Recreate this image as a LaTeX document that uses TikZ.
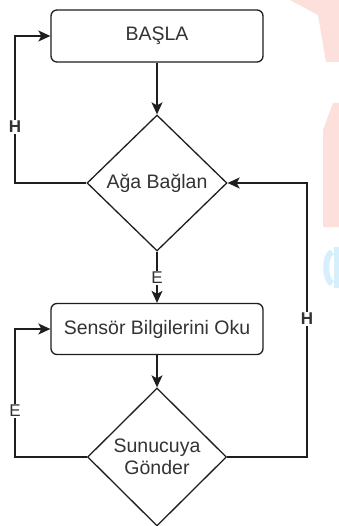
\documentclass[tikz,border=0pt]{standalone}
\usepackage{fontspec}
\setmainfont{Liberation Sans}
\usetikzlibrary{shapes.geometric,arrows.meta}
\definecolor{ink}{RGB}{30,30,30}
\definecolor{txt}{RGB}{51,51,51}
\definecolor{wmpink}{RGB}{253,224,219}
\definecolor{wmblue}{RGB}{214,239,252}
\tikzset{
  line/.style={draw=ink, line width=1.3pt},
  arr/.style={line, -{Stealth[length=12pt,width=11pt,inset=3pt]}},
  procbox/.style={line, rectangle, rounded corners=6pt, minimum width=212pt,
    minimum height=52pt, inner sep=0pt, text=txt, font=\fontsize{19.5}{22}\selectfont},
  decision/.style={line, diamond, minimum width=140pt, minimum height=136pt,
    inner sep=0pt, text=txt, align=center, font=\fontsize{19.5}{21.5}\selectfont},
  lbl/.style={fill=white, inner sep=1.5pt, text=txt, font=\fontsize{17}{17}\selectfont}
}
\begin{document}
\begin{tikzpicture}[x=1pt,y=-1pt]
\useasboundingbox (0,0) rectangle (339,526);
\fill[white] (0,0) rectangle (339,526);
% faint background marks at the right edge
\fill[wmpink] (290,0) -- (339,0) -- (339,62) -- (326,62) -- (318,15) -- cycle;
\fill[wmpink] (333,103) -- (339,103) -- (339,227) -- (323,227) -- (323,130) -- cycle;
\draw[wmblue, line width=6pt] (332,252) arc[start angle=100, end angle=260, x radius=7pt, y radius=16pt];
\fill[wmblue] (334,247) rectangle (339,288);

% blocks
\node[procbox] (start) at (157,36) {BAŞLA};
\node[decision] (net) at (157,183) {Ağa Bağlan};
\node[procbox, minimum height=51pt] (read) at (157,329) {Sensör Bilgilerini Oku};
\node[decision, minimum width=139pt, minimum height=138pt] (send) at (157,457) {Sunucuya\\Gönder};

% return points of the loops
\coordinate (lt) at (15,36);
\coordinate (lb) at (15,329);
\coordinate (rt) at (307,183);

% connectors
\draw[arr] (start) -- (net);
\draw[arr] (net.west) -| (lt) -- (start.west);
\draw[arr] (net) -- (read);
\draw[arr] (read) -- (send);
\draw[arr] (send.west) -| (lb) -- (read.west);
\draw[arr] (send.east) -| (rt) -- (net.east);

% branch labels
\node[lbl, font=\fontsize{17}{17}\selectfont\bfseries] (h1) at (15,127) {H};
\node[lbl] (e1) at (157,278) {E};
\node[lbl] (e2) at (15,411) {E};
\node[lbl, font=\fontsize{17}{17}\selectfont\bfseries] (h2) at (307,319) {H};
\end{tikzpicture}
\end{document}
